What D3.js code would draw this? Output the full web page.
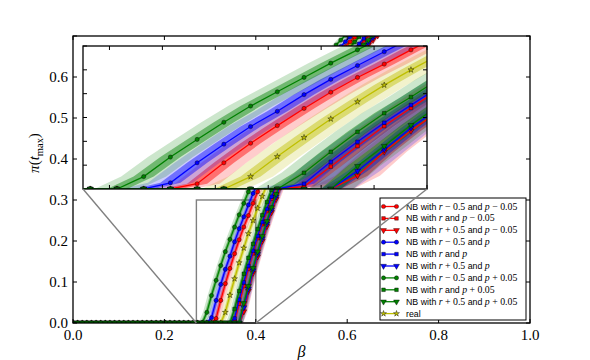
<!DOCTYPE html>
<html>
<head>
<meta charset="utf-8">
<script src="https://cdn.jsdelivr.net/npm/d3@7.9.0/dist/d3.min.js"></script>
<style>
  body { margin: 0; background: #fff; }
  svg { display: block; }
  text { white-space: pre; }
</style>
</head>
<body>
<svg id="chart" width="590" height="360"></svg>
<script>
/* --------------------------------- Data ---------------------------------- */
// beta grid: 100 evenly spaced points on [0, 1]
const betaCount = 100;

// index of the last zero point of each curve (legend order)
const startIdx = [30, 34, 36, 29, 34, 36, 28, 34, 36, 32];

const redCircleVals = [0, 0.011, 0.055, 0.096, 0.133, 0.169, 0.203, 0.234, 0.262, 0.292, 0.320, 0.347, 0.373, 0.398, 0.422, 0.445, 0.467, 0.488, 0.508, 0.527, 0.545, 0.562, 0.578, 0.593, 0.608, 0.622, 0.636, 0.649, 0.662, 0.674, 0.686, 0.697, 0.708, 0.719, 0.730];
const redSquareVals = [0, 0.005, 0.047, 0.090, 0.132, 0.170, 0.207, 0.241, 0.273, 0.303, 0.331, 0.358, 0.384, 0.409, 0.433, 0.456, 0.478, 0.499, 0.519, 0.538, 0.556, 0.573, 0.589, 0.605, 0.620, 0.635, 0.649, 0.663, 0.676, 0.689, 0.701, 0.713, 0.724];
const redTriangleVals = [0, 0.028, 0.078, 0.122, 0.162, 0.200, 0.236, 0.270, 0.302, 0.332, 0.360, 0.386, 0.410, 0.433, 0.455, 0.476, 0.496, 0.515, 0.533, 0.550, 0.566, 0.582, 0.597, 0.612, 0.626, 0.640, 0.653, 0.666, 0.678, 0.690, 0.701, 0.712, 0.723];
const blueCircleVals = [0, 0.013, 0.055, 0.094, 0.131, 0.163, 0.198, 0.230, 0.259, 0.288, 0.316, 0.343, 0.369, 0.394, 0.418, 0.441, 0.463, 0.484, 0.504, 0.523, 0.541, 0.558, 0.574, 0.590, 0.605, 0.620, 0.634, 0.648, 0.661, 0.674, 0.686, 0.698, 0.710, 0.721];
const blueSquareVals = [0, 0.011, 0.057, 0.099, 0.139, 0.176, 0.212, 0.246, 0.278, 0.308, 0.336, 0.363, 0.389, 0.414, 0.438, 0.461, 0.483, 0.504, 0.524, 0.543, 0.561, 0.578, 0.594, 0.610, 0.625, 0.640, 0.654, 0.668, 0.681, 0.694, 0.706, 0.718];
const blueTriangleVals = [0, 0.038, 0.083, 0.128, 0.168, 0.206, 0.242, 0.276, 0.308, 0.338, 0.366, 0.392, 0.416, 0.439, 0.461, 0.482, 0.502, 0.521, 0.539, 0.556, 0.572, 0.588, 0.603, 0.618, 0.632, 0.646, 0.659, 0.672, 0.684, 0.696, 0.707, 0.718];
const greenCircleVals = [0, 0.026, 0.067, 0.104, 0.140, 0.174, 0.204, 0.234, 0.264, 0.292, 0.320, 0.347, 0.373, 0.398, 0.422, 0.445, 0.467, 0.488, 0.508, 0.527, 0.545, 0.562, 0.578, 0.594, 0.609, 0.624, 0.638, 0.652, 0.665, 0.678, 0.690, 0.702, 0.714, 0.725];
const greenSquareVals = [0, 0.034, 0.078, 0.120, 0.159, 0.193, 0.229, 0.263, 0.295, 0.325, 0.353, 0.380, 0.406, 0.431, 0.455, 0.478, 0.500, 0.521, 0.541, 0.560, 0.578, 0.595, 0.611, 0.627, 0.642, 0.657, 0.671, 0.685, 0.698, 0.711, 0.723];
const greenTriangleVals = [0, 0.048, 0.090, 0.134, 0.174, 0.212, 0.248, 0.282, 0.314, 0.344, 0.372, 0.398, 0.422, 0.445, 0.467, 0.488, 0.508, 0.527, 0.545, 0.562, 0.578, 0.594, 0.609, 0.624, 0.638, 0.652, 0.665, 0.678, 0.690, 0.702, 0.713, 0.724];
const realVals = [0, 0.026, 0.068, 0.108, 0.147, 0.183, 0.218, 0.250, 0.280, 0.309, 0.337, 0.364, 0.390, 0.415, 0.439, 0.462, 0.484, 0.505, 0.525, 0.544, 0.562, 0.579, 0.595, 0.611, 0.626, 0.641, 0.655, 0.668, 0.680, 0.692, 0.704, 0.716, 0.727];

// band half-widths along beta (outer = light, inner = dark)
const outerSpread = 0.0085;
const innerSpread = 0.0038;

const seriesColors = ["#ff0000", "#ff0000", "#ff0000", "#0000ff", "#0000ff", "#0000ff", "#008000", "#008000", "#008000", "#bfbf00"];
const seriesMarkers = ["circle", "square", "triangle", "circle", "square", "triangle", "circle", "square", "triangle", "star"];
const rShift = ["− 0.5", "", "+ 0.5"];
const pShift = ["− 0.05", "", "+ 0.05"];

const xTicks = [0, 0.2, 0.4, 0.6, 0.8, 1.0];
const yTicks = [0, 0.1, 0.2, 0.3, 0.4, 0.5, 0.6, 0.7];
const yTickLabels = ["0.0", "0.1", "0.2", "0.3", "0.4", "0.5", "0.6", ""];
const zoomBeta = [0.27, 0.40];
const zoomPi = [0, 0.3];
const insetXTicks = [0.28, 0.30, 0.32, 0.34, 0.36, 0.38, 0.40];
const insetYTicks = [0.05, 0.10, 0.15, 0.20, 0.25, 0.30];

/* ------------------------------ Series table ----------------------------- */
const allVals = [redCircleVals, redSquareVals, redTriangleVals, blueCircleVals, blueSquareVals,
  blueTriangleVals, greenCircleVals, greenSquareVals, greenTriangleVals, realVals];

const series = allVals.map((vals, i) => {
  const pts = [];
  for (let k = 0; k < betaCount; k++) {
    const v = k < startIdx[i] ? 0 : vals[k - startIdx[i]];
    if (v === undefined) break;
    pts.push({ b: k / (betaCount - 1), v });
  }
  return { pts, color: seriesColors[i], marker: seriesMarkers[i] };
});
// real curve goes underneath the NB curves
const drawOrder = [9, 0, 1, 2, 3, 4, 5, 6, 7, 8];

/* -------------------------------- Layout --------------------------------- */
const svg = d3.select("#chart");
const mainBox = { x0: 73, x1: 530, y0: 36, y1: 323 };
const insetBox = { x0: 83, x1: 427, y0: 46, y1: 189 };

const xMain = d3.scaleLinear().domain([0, 1]).range([mainBox.x0, mainBox.x1]);
const yMain = d3.scaleLinear().domain([0, 0.7]).range([mainBox.y1, mainBox.y0]);
const xInset = d3.scaleLinear().domain(zoomBeta).range([insetBox.x0, insetBox.x1]);
const yInset = d3.scaleLinear().domain(zoomPi).range([insetBox.y1, insetBox.y0]);

const defs = svg.append("defs");
[["clipMain", mainBox], ["clipInset", insetBox]].forEach(([id, b]) => {
  defs.append("clipPath").attr("id", id).append("rect")
    .attr("x", b.x0).attr("y", b.y0).attr("width", b.x1 - b.x0).attr("height", b.y1 - b.y0);
});

const symbols = {
  circle: d3.symbol(d3.symbolCircle, 14),
  square: d3.symbol(d3.symbolSquare, 13),
  triangle: d3.symbol(d3.symbolTriangle, 15),
  star: d3.symbol(d3.symbolStar, 11)
};

function markerPath(g, type, color, cx, cy) {
  g.append("path")
    .attr("d", symbols[type]())
    .attr("transform", `translate(${cx},${cy})` + (type === "triangle" ? " rotate(180)" : ""))
    .attr("fill", color)
    .attr("stroke", "#000")
    .attr("stroke-width", 0.4);
}

/* ------------------------------ Curves + bands --------------------------- */
function drawCurves(g, xs, ys) {
  const band = (w) => d3.area()
    .x0((d) => xs(d.b - w)).x1((d) => xs(d.b + w)).y((d) => ys(d.v));
  const line = d3.line().x((d) => xs(d.b)).y((d) => ys(d.v));

  drawOrder.forEach((i) => {
    const s = series[i];
    g.append("path").attr("d", band(outerSpread)(s.pts))
      .attr("fill", s.color).attr("fill-opacity", 0.2);
    g.append("path").attr("d", band(innerSpread)(s.pts))
      .attr("fill", s.color).attr("fill-opacity", 0.45);
  });

  drawOrder.forEach((i) => {
    const s = series[i];
    g.append("path").attr("d", line(s.pts))
      .attr("fill", "none").attr("stroke", s.color).attr("stroke-width", 1.3);
    s.pts.forEach((d) => markerPath(g, s.marker, s.color, xs(d.b), ys(d.v)));
  });
}

function frameAndTicks(box, xs, ys, xt, yt) {
  const g = svg.append("g").attr("stroke", "#000").attr("stroke-width", 1);
  xt.forEach((t) => {
    g.append("line").attr("x1", xs(t)).attr("x2", xs(t)).attr("y1", box.y1).attr("y2", box.y1 - 4);
    g.append("line").attr("x1", xs(t)).attr("x2", xs(t)).attr("y1", box.y0).attr("y2", box.y0 + 4);
  });
  yt.forEach((t) => {
    g.append("line").attr("y1", ys(t)).attr("y2", ys(t)).attr("x1", box.x0).attr("x2", box.x0 + 4);
    g.append("line").attr("y1", ys(t)).attr("y2", ys(t)).attr("x1", box.x1).attr("x2", box.x1 - 4);
  });
  g.append("rect")
    .attr("x", box.x0).attr("y", box.y0)
    .attr("width", box.x1 - box.x0).attr("height", box.y1 - box.y0)
    .attr("fill", "none").attr("stroke-width", 1.3);
}

/* ------------------------------- Main axes ------------------------------- */
svg.append("rect")
  .attr("x", xMain(zoomBeta[0])).attr("y", yMain(zoomPi[1]))
  .attr("width", xMain(zoomBeta[1]) - xMain(zoomBeta[0]))
  .attr("height", yMain(zoomPi[0]) - yMain(zoomPi[1]))
  .attr("fill", "none").attr("stroke", "#808080").attr("stroke-width", 1.4);

drawCurves(svg.append("g").attr("clip-path", "url(#clipMain)"), xMain, yMain);
frameAndTicks(mainBox, xMain, yMain, xTicks, yTicks);

const tickFont = "'Liberation Serif', 'DejaVu Serif', serif";
svg.append("g").selectAll("text").data(xTicks).join("text")
  .attr("x", (d) => xMain(d)).attr("y", 340)
  .attr("text-anchor", "middle")
  .attr("font-family", tickFont).attr("font-size", 15)
  .text((d) => d.toFixed(1));
svg.append("g").selectAll("text").data(yTicks).join("text")
  .attr("x", 68).attr("y", (d) => yMain(d) + 5)
  .attr("text-anchor", "end")
  .attr("font-family", tickFont).attr("font-size", 15)
  .text((d, i) => yTickLabels[i]);

// axis labels
svg.append("text")
  .attr("x", (mainBox.x0 + mainBox.x1) / 2).attr("y", 357)
  .attr("text-anchor", "middle")
  .attr("font-family", tickFont).attr("font-size", 16).attr("font-style", "italic")
  .text("β");

const ylab = svg.append("text")
  .attr("transform", "translate(39,153) rotate(-90)")
  .attr("text-anchor", "middle")
  .attr("font-family", tickFont).attr("font-size", 15);
ylab.append("tspan").attr("font-style", "italic").text("π");
ylab.append("tspan").text("(");
ylab.append("tspan").attr("font-style", "italic").text("t");
ylab.append("tspan").attr("font-size", 10.5).attr("dy", 3.5).text("max");
ylab.append("tspan").attr("dy", -3.5).text(")");

/* --------------------------------- Legend -------------------------------- */
const legendBox = { x: 380, y: 198, w: 146, h: 122 };
const legend = svg.append("g");
legend.append("rect")
  .attr("x", legendBox.x).attr("y", legendBox.y).attr("width", legendBox.w).attr("height", legendBox.h)
  .attr("fill", "#fff").attr("stroke", "#000").attr("stroke-width", 1);

const sansFont = "'Liberation Sans', Arial, sans-serif";
series.forEach((s, i) => {
  const ly = 206.5 + i * 11.9;
  legend.append("line")
    .attr("x1", 383).attr("x2", 397).attr("y1", ly).attr("y2", ly)
    .attr("stroke", s.color).attr("stroke-width", 1.3);
  markerPath(legend, s.marker, s.color, 383.5, ly);
  markerPath(legend, s.marker, s.color, 396.5, ly);

  const t = legend.append("text").attr("x", 406).attr("y", ly + 3)
    .attr("font-family", sansFont).attr("font-size", 8.8);
  if (i === 9) {
    t.text("real");
    return;
  }
  const rs = rShift[i % 3], ps = pShift[Math.floor(i / 3)];
  t.append("tspan").text("NB with ");
  t.append("tspan").attr("font-family", tickFont).attr("font-style", "italic").attr("font-size", 9.8).text("r");
  if (rs) t.append("tspan").attr("font-family", tickFont).attr("font-size", 9.8).text(" " + rs);
  t.append("tspan").text(" and ");
  t.append("tspan").attr("font-family", tickFont).attr("font-style", "italic").attr("font-size", 9.8).text("p");
  if (ps) t.append("tspan").attr("font-family", tickFont).attr("font-size", 9.8).text(" " + ps);
});

/* --------------------------------- Inset --------------------------------- */
svg.append("rect")
  .attr("x", insetBox.x0).attr("y", insetBox.y0)
  .attr("width", insetBox.x1 - insetBox.x0).attr("height", insetBox.y1 - insetBox.y0)
  .attr("fill", "#fff");
drawCurves(svg.append("g").attr("clip-path", "url(#clipInset)"), xInset, yInset);
frameAndTicks(insetBox, xInset, yInset, insetXTicks, insetYTicks);

// connector lines from the inset corners down to the zoom rectangle
const connectors = [zoomBeta[0], zoomBeta[1]];
svg.append("g").selectAll("line").data(connectors).join("line")
  .attr("x1", (d) => xInset(d)).attr("y1", insetBox.y1)
  .attr("x2", (d) => xMain(d)).attr("y2", yMain(0))
  .attr("stroke", "#808080").attr("stroke-width", 1.4);
</script>
</body>
</html>
